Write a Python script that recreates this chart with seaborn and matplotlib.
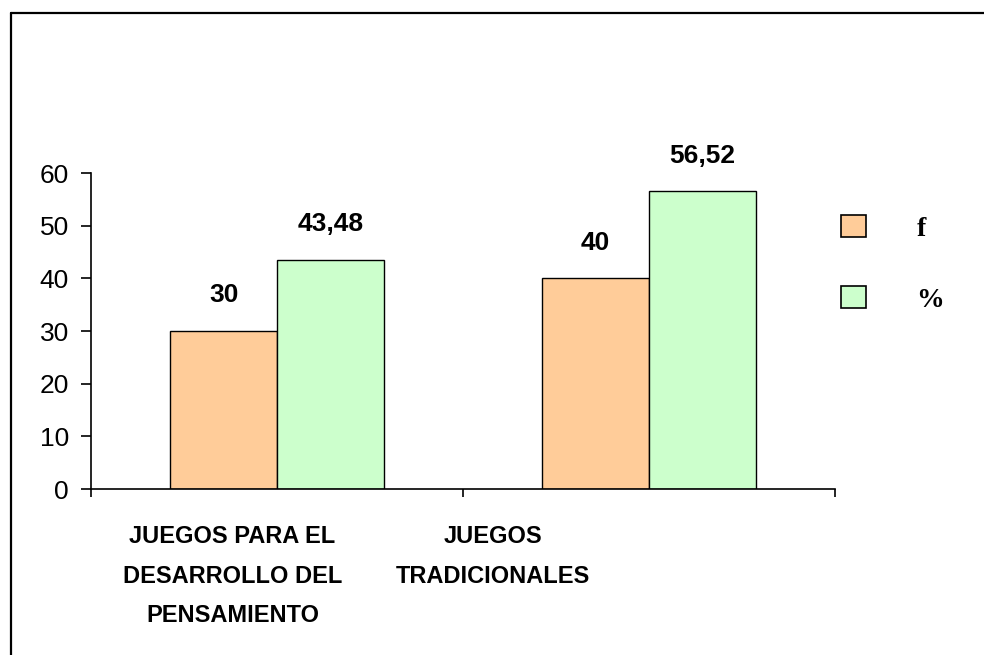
import pandas as pd
import matplotlib.pyplot as plt
import seaborn as sns
from matplotlib.lines import Line2D
from matplotlib.patches import Patch

# Data
categorias = ["JUEGOS PARA EL\nDESARROLLO DEL\nPENSAMIENTO", "JUEGOS\nTRADICIONALES"]
series = ["f", "%"]
valores_f = [30, 40]
valores_pct = [43.48, 56.52]
etiquetas_f = ["30", "40"]
etiquetas_pct = ["43,48", "56,52"]
colores = ["#FFCC99", "#CCFFCC"]

df = pd.DataFrame({
    "categoria": categorias * 2,
    "serie": [series[0]] * 2 + [series[1]] * 2,
    "valor": valores_f + valores_pct,
})

sns.set_theme(style="white")
plt.rcParams["font.family"] = ["Liberation Sans", "DejaVu Sans"]
plt.rcParams["text.color"] = "black"
plt.rcParams["xtick.color"] = "black"
plt.rcParams["ytick.color"] = "black"

fig = plt.figure(figsize=(9.84, 6.55), dpi=100)
ax = fig.add_axes([0.0925, 0.2534, 0.7561, 0.4824])

sns.barplot(data=df, x="categoria", y="valor", hue="serie", palette=colores,
            saturation=1, width=0.575, edgecolor="black", linewidth=1.0,
            ax=ax, legend=False)

# value labels above the bars
for cont, etq in zip(ax.containers, [etiquetas_f, etiquetas_pct]):
    ax.bar_label(cont, labels=etq, padding=17, fontsize=19, fontweight="bold",
                 color="black")

ax.set_ylim(0, 60)
ax.set_xlim(-0.5, 1.5)
ax.set_yticks(range(0, 61, 10))
ax.tick_params(axis="y", direction="out", length=7, width=1.2, pad=9,
               labelsize=19, left=True)
ax.set_xlabel("")
ax.set_ylabel("")

# category labels (shifted left like the original), boundary ticks
ax.set_xticks([-0.12, 0.58])
ax.set_xticklabels(categorias, fontsize=17, fontweight="bold")
for lbl in ax.get_xticklabels():
    lbl.set_linespacing(1.92)
ax.tick_params(axis="x", which="major", length=0, pad=26)
ax.set_xticks([-0.5, 0.5, 1.5], minor=True)
ax.tick_params(axis="x", which="minor", direction="out", length=6, width=1.2,
               bottom=True)

sns.despine(ax=ax)
for s in ["left", "bottom"]:
    ax.spines[s].set_color("black")
    ax.spines[s].set_linewidth(1.2)

# legend on the right
handles = [Patch(facecolor=c, edgecolor="black", linewidth=1.2) for c in colores]
fig.legend(handles, series, loc="center left", bbox_to_anchor=(0.8405, 0.597),
           frameon=False, borderpad=0, handlelength=0.9, handleheight=0.85,
           labelspacing=1.6, handletextpad=1.82,
           prop={"family": "Liberation Serif", "weight": "bold", "size": 20})

# outer frame (only left and top visible in the original)
fig.add_artist(Line2D([10.5 / 984, 10.5 / 984], [0, 1 - 13 / 655],
                      transform=fig.transFigure, color="black", lw=1.6))
fig.add_artist(Line2D([10.5 / 984, 1], [1 - 13 / 655, 1 - 13 / 655],
                      transform=fig.transFigure, color="black", lw=1.6))

plt.savefig("out.png", dpi=100)
